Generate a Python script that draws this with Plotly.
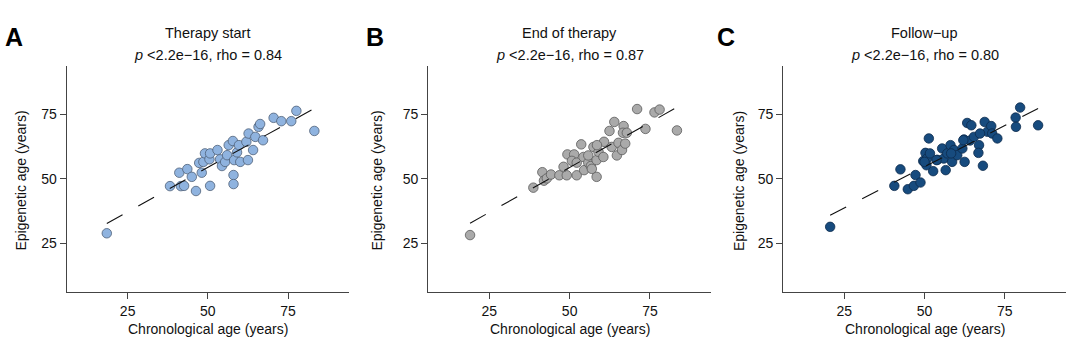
import numpy as np
import plotly.graph_objects as go

# ---------------- data ----------------
panel_letters = ["A", "B", "C"]
panel_titles = ["Therapy start", "End of therapy", "Follow\u2212up"]
rho_values = ["0.84", "0.87", "0.80"]
p_text = "<2.2e\u221216"

start_x = [18.5, 38.2, 41.1, 41.6, 42.6, 43.6, 45.0, 46.3, 47.3, 48.1, 48.6, 49.1, 50.5, 50.7,
           50.7, 53.0, 53.8, 54.4, 55.4, 56.5, 56.0, 57.8, 58.0, 58.0, 58.2, 59.1, 59.7, 60.1,
           62.0, 62.5, 62.7, 64.1, 64.8, 65.8, 66.3, 67.2, 70.5, 72.9, 76.0, 77.6, 83.2]
start_y = [28.9, 47.2, 52.4, 47.2, 47.3, 53.8, 50.8, 45.3, 56.2, 52.4, 56.6, 59.9, 57.6, 59.9,
           47.3, 61.2, 57.6, 55.0, 56.6, 63.1, 59.2, 64.7, 51.5, 48.0, 57.3, 60.3, 63.1, 56.6,
           64.4, 57.3, 67.6, 61.2, 66.3, 70.2, 71.3, 65.0, 73.7, 72.4, 72.4, 76.4, 68.6]

end_x = [19.0, 38.7, 41.5, 42.0, 42.9, 44.2, 46.8, 49.1, 48.1, 49.3, 51.4, 50.7, 52.2, 52.2,
         53.6, 54.5, 54.3, 55.8, 56.6, 55.8, 57.4, 58.4, 58.4, 59.0, 60.5, 60.7, 62.4, 63.1,
         63.9, 64.7, 65.2, 66.3, 66.8, 66.6, 67.3, 67.8, 71.0, 73.6, 76.4, 78.0, 83.4, 58.5, 56.9]
end_y = [28.2, 46.6, 52.6, 49.3, 50.2, 51.7, 51.4, 51.4, 54.7, 59.5, 59.5, 57.0, 51.4, 56.3,
         63.4, 53.4, 58.5, 56.3, 55.0, 59.1, 62.4, 50.8, 57.3, 60.5, 58.5, 64.4, 68.6, 62.4,
         72.1, 59.1, 64.0, 61.2, 70.5, 67.9, 63.7, 67.9, 77.1, 69.4, 75.8, 76.9, 68.8, 63.1, 53.9]

follow_x = [20.6, 40.6, 42.5, 44.8, 46.7, 47.2, 48.75, 49.6, 50.3, 51.35, 50.8, 51.7, 50.6, 52.7,
            54.0, 55.5, 56.0, 56.6, 57.1, 58.1, 58.6, 59.2, 60.2, 61.8, 62.3, 62.5, 63.3, 64.6,
            64.2, 65.4, 67.0, 66.8, 68.2, 68.75, 69.6, 70.8, 71.1, 72.7, 78.4, 79.8, 78.5, 85.4,
            62.1, 67.3, 58.3, 53.75, 50.0]
follow_y = [31.4, 47.3, 53.7, 46.0, 47.3, 51.5, 48.6, 56.9, 60.1, 65.7, 57.9, 59.9, 55.3, 53.0,
            57.4, 61.8, 57.9, 53.4, 59.9, 63.1, 56.6, 61.2, 59.2, 61.8, 65.3, 56.6, 71.7, 70.8,
            64.9, 66.3, 63.1, 60.1, 55.1, 72.1, 68.3, 70.5, 67.6, 65.7, 73.8, 77.7, 70.2, 70.8,
            65.0, 67.6, 59.9, 57.3, 56.6]

tick_vals = [25, 50, 75]
tick_text = ["25", "50", "75"]
axis_range = [6, 94]

# ---------------- style ----------------
W, H = 1080, 344
FONT = "Liberation Sans, Arial, Helvetica, sans-serif"
fills = ["#8FB3DF", "#AAAAAA", "#174B7E"]
edges = ["#4F6178", "#5A5A5A", "#0C2B4D"]
x_doms_px = [(66.7, 349.0), (428.3, 711.0), (783.3, 1065.7)]
y_dom_px = (65.5, 292.3)
letter_x_px = [13.5, 374.5, 725.5]
ytitle_x_px = [20.5, 376.5, 739.0]

datasets = [(start_x, start_y), (end_x, end_y), (follow_x, follow_y)]

fig = go.Figure()

def px_to_py(p):
    return 1 - p / H

annotations = []
for i, (xs, ys) in enumerate(datasets):
    xa = "x" if i == 0 else f"x{i+1}"
    ya = "y" if i == 0 else f"y{i+1}"
    xs_a = np.array(xs)
    ys_a = np.array(ys)
    slope, intercept = np.polyfit(xs_a, ys_a, 1)
    lx = np.array([xs_a.min(), xs_a.max()])
    ly = intercept + slope * lx
    fig.add_trace(go.Scatter(
        x=xs, y=ys, mode="markers", xaxis=xa, yaxis=ya, showlegend=False,
        marker=dict(size=9.5, color=fills[i], line=dict(color=edges[i], width=0.8)),
    ))
    fig.add_trace(go.Scatter(
        x=lx, y=ly, mode="lines", xaxis=xa, yaxis=ya, showlegend=False,
        line=dict(color="#111111", width=1.1, dash="18px,18px"),
    ))

    d0, d1 = x_doms_px[i]
    axis_common = dict(
        range=axis_range, showgrid=False, zeroline=False, showline=True,
        linecolor="#444444", linewidth=1.2, ticks="outside", ticklen=6,
        tickcolor="#444444", tickwidth=1.2, tickvals=tick_vals, ticktext=tick_text,
        tickfont=dict(family=FONT, size=14, color="#111111"), automargin=False,
        fixedrange=True,
    )
    fig.layout[f"xaxis{'' if i == 0 else i+1}"] = dict(
        domain=[d0 / W, d1 / W], anchor=ya, **axis_common)
    fig.layout[f"yaxis{'' if i == 0 else i+1}"] = dict(
        domain=[px_to_py(y_dom_px[1]), px_to_py(y_dom_px[0])], anchor=xa, **axis_common)

    cx = (d0 + d1) / 2 / W
    annotations.append(dict(text=panel_titles[i], x=cx, y=px_to_py(33), xref="paper", yref="paper",
                            showarrow=False, xanchor="center", yanchor="middle",
                            font=dict(family=FONT, size=14.5, color="#111111")))
    annotations.append(dict(text=f"<i>p</i> {p_text}, rho = {rho_values[i]}", x=cx, y=px_to_py(55),
                            xref="paper", yref="paper", showarrow=False, xanchor="center",
                            yanchor="middle", font=dict(family=FONT, size=14.5, color="#111111")))
    annotations.append(dict(text="Chronological age (years)", x=cx, y=px_to_py(328.5), xref="paper",
                            yref="paper", showarrow=False, xanchor="center", yanchor="middle",
                            font=dict(family=FONT, size=14, color="#111111")))
    annotations.append(dict(text="Epigenetic age (years)", x=ytitle_x_px[i] / W,
                            y=px_to_py(181), xref="paper", yref="paper", showarrow=False,
                            xanchor="center", yanchor="middle", textangle=-90,
                            font=dict(family=FONT, size=14, color="#111111")))
    annotations.append(dict(text=f"<b>{panel_letters[i]}</b>", x=letter_x_px[i] / W, y=px_to_py(37),
                            xref="paper", yref="paper", showarrow=False, xanchor="center",
                            yanchor="middle", font=dict(family=FONT, size=25, color="#000000")))

fig.update_layout(
    width=W, height=H, margin=dict(l=0, r=0, t=0, b=0),
    paper_bgcolor="white", plot_bgcolor="white",
    annotations=annotations, showlegend=False,
)

fig.write_html("out.html")
